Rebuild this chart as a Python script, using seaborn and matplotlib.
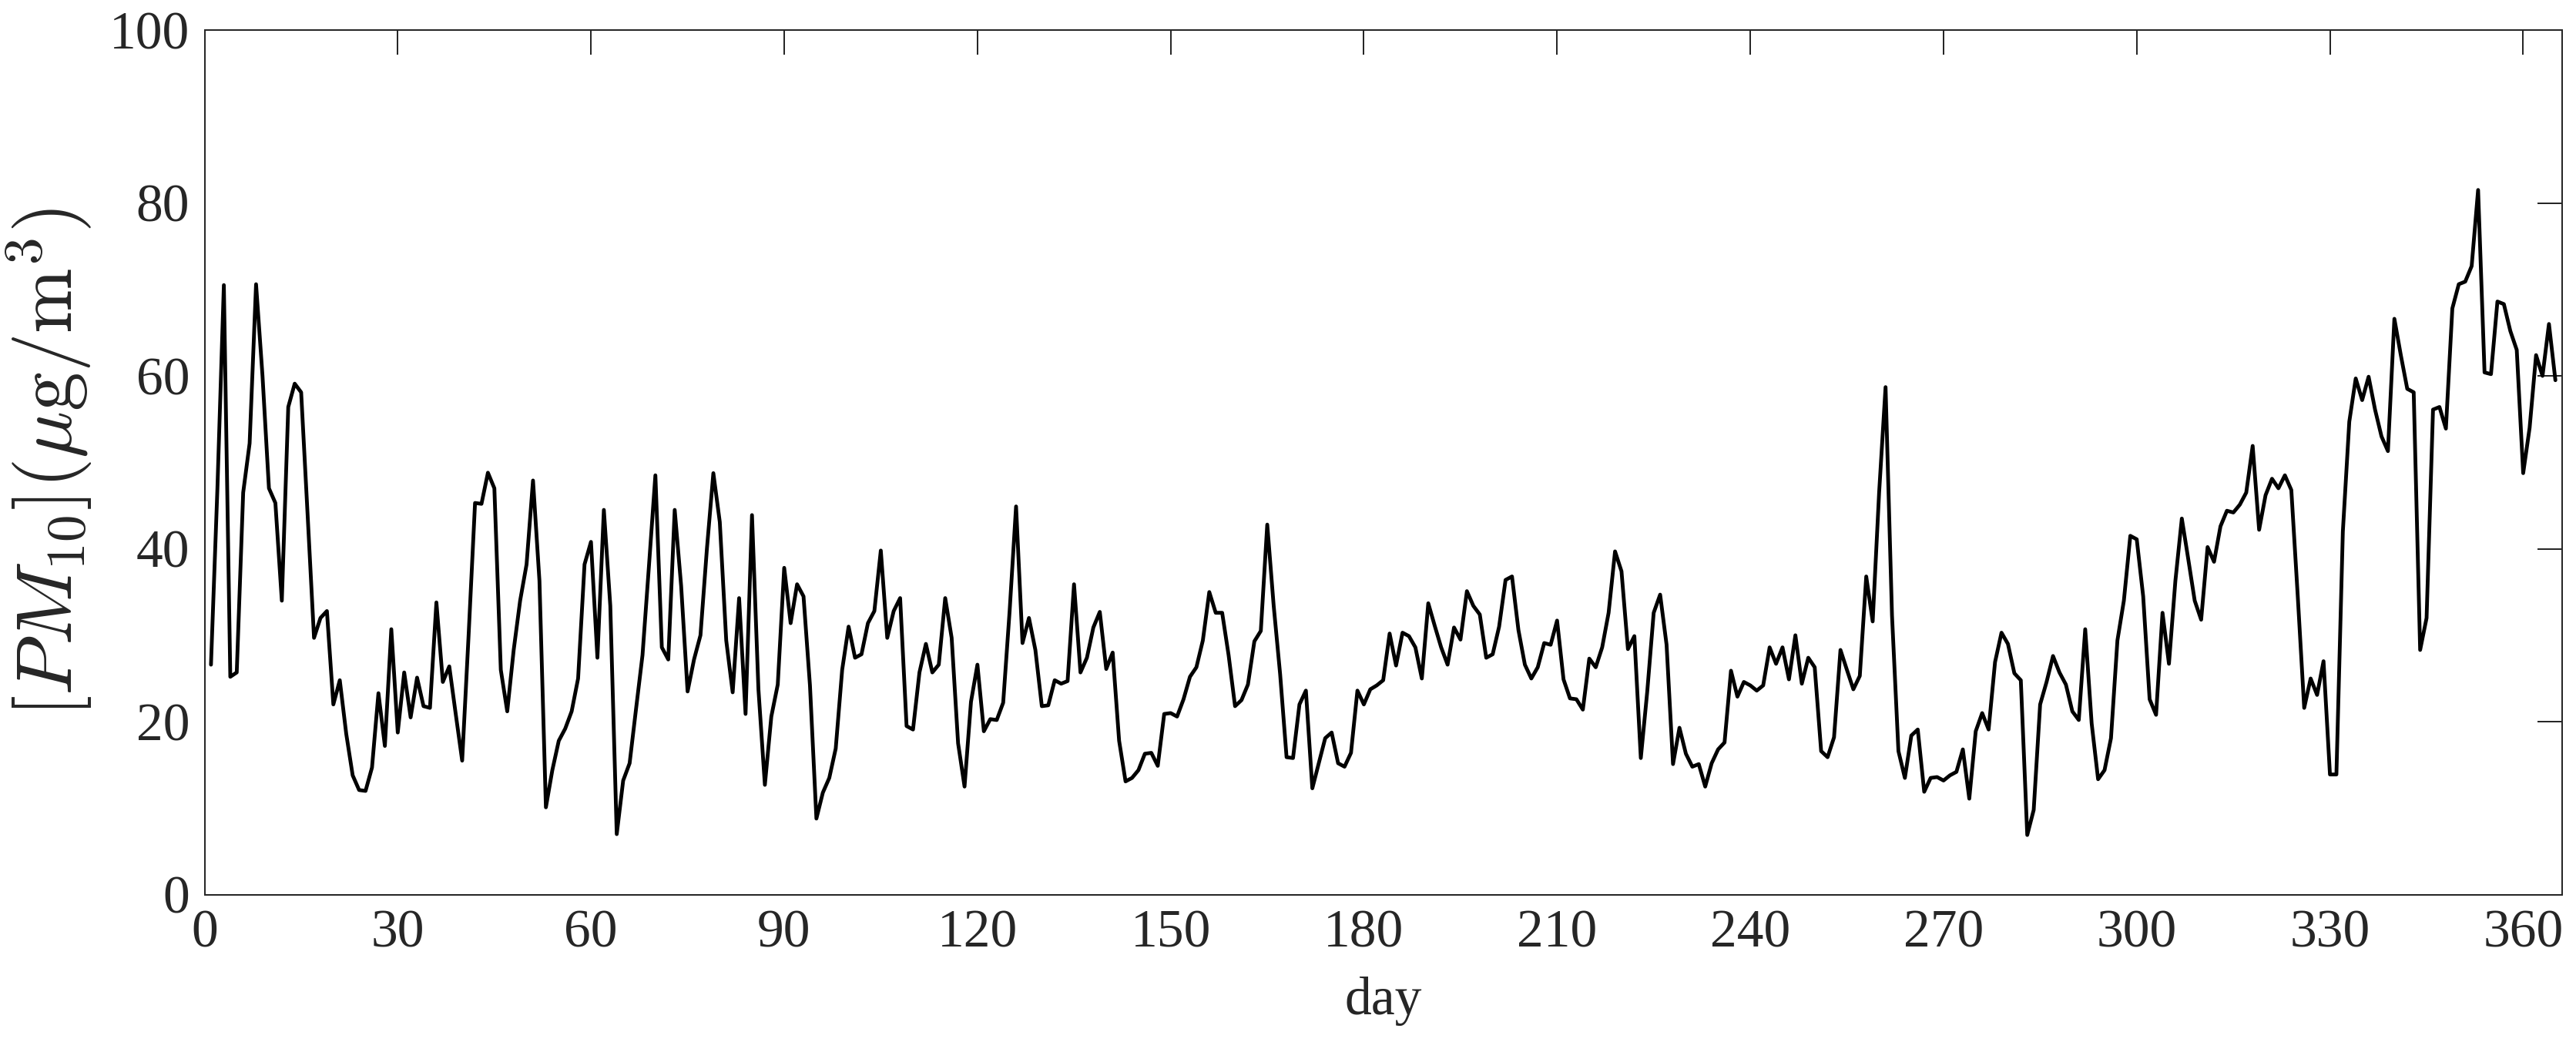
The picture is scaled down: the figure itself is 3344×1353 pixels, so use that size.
import numpy as np
import pandas as pd
import matplotlib
matplotlib.use("Agg")
import matplotlib.pyplot as plt
import seaborn as sns

# ---- data ----
days = list(range(1, 366))
pm10 = [
    26.6, 47.0, 70.5, 25.2, 25.7, 46.5, 52.2, 70.6, 60.0, 47.0,
    45.3, 34.0, 56.4, 59.1, 58.1, 44.0, 29.7, 32.0, 32.8, 22.0,
    24.8, 18.6, 13.8, 12.1, 12.0, 14.7, 23.3, 17.2, 30.7, 18.75,
    25.7, 20.5, 25.1, 21.8, 21.6, 33.8, 24.6, 26.4, 20.9, 15.5,
    30.0, 45.3, 45.2, 48.8, 47.0, 26.0, 21.2, 28.3, 34.0, 38.2,
    47.9, 36.3, 10.1, 14.4, 17.8, 19.2, 21.2, 25.0, 38.2, 40.8,
    27.4, 44.5, 33.4, 7.0, 13.2, 15.2, 21.5, 27.7, 38.0, 48.5,
    28.6, 27.2, 44.5, 35.7, 23.5, 27.2, 30.0, 40.0, 48.75, 43.1,
    29.4, 23.4, 34.3, 20.9, 43.9, 23.75, 12.7, 20.6, 24.3, 37.8,
    31.4, 35.9, 34.5, 24.2, 8.8, 11.8, 13.5, 16.9, 26.0, 31.0,
    27.4, 27.8, 31.4, 32.8, 39.8, 29.7, 32.8, 34.3, 19.5, 19.1,
    25.7, 29.0, 25.7, 26.6, 34.3, 29.7, 17.5, 12.5, 22.3, 26.6,
    18.9, 20.3, 20.2, 22.2, 32.8, 44.9, 29.1, 32.0, 28.3, 21.8,
    21.9, 24.8, 24.4, 24.7, 35.9, 25.7, 27.4, 30.9, 32.7, 26.1,
    28.0, 17.8, 13.1, 13.5, 14.4, 16.3, 16.4, 14.9, 20.9, 21.0,
    20.6, 22.6, 25.2, 26.3, 29.4, 35.0, 32.6, 32.6, 27.7, 21.8,
    22.5, 24.3, 29.3, 30.5, 42.8, 33.4, 25.5, 15.9, 15.8, 22.0,
    23.6, 12.3, 15.2, 18.1, 18.75, 15.2, 14.8, 16.4, 23.6, 22.0,
    23.75, 24.2, 24.8, 30.2, 26.5, 30.3, 29.9, 28.6, 25.0, 33.7,
    31.1, 28.6, 26.6, 30.9, 29.5, 35.1, 33.4, 32.4, 27.4, 27.8,
    31.0, 36.4, 36.8, 30.6, 26.6, 25.0, 26.3, 29.1, 28.9, 31.7,
    24.9, 22.7, 22.6, 21.4, 27.3, 26.3, 28.6, 32.6, 39.7, 37.4,
    28.4, 29.9, 15.8, 23.5, 32.6, 34.7, 28.9, 15.1, 19.3, 16.3,
    14.8, 15.1, 12.5, 15.2, 16.8, 17.6, 25.9, 22.9, 24.6, 24.2,
    23.6, 24.2, 28.6, 26.7, 28.6, 24.9, 30.0, 24.4, 27.4, 26.3,
    16.6, 15.9, 18.2, 28.3, 26.0, 23.75, 25.3, 36.8, 31.6, 46.5,
    58.7, 32.3, 16.6, 13.5, 18.4, 19.1, 11.9, 13.5, 13.6, 13.2,
    13.8, 14.2, 16.8, 11.1, 18.9, 21.0, 19.1, 26.9, 30.3, 29.0,
    25.6, 24.8, 6.9, 9.8, 22.0, 24.6, 27.6, 25.7, 24.3, 21.2,
    20.2, 30.7, 19.8, 13.35, 14.4, 18.1, 29.4, 34.0, 41.5, 41.1,
    34.5, 22.6, 20.8, 32.6, 26.7, 36.3, 43.5, 38.8, 34.0, 31.8,
    40.2, 38.5, 42.6, 44.4, 44.2, 45.1, 46.5, 51.9, 42.2, 46.2,
    48.1, 47.0, 48.5, 46.8, 34.5, 21.6, 25.0, 23.1, 27.0, 13.9,
    13.9, 42.0, 54.7, 59.7, 57.2, 59.9, 56.1, 53.0, 51.3, 66.6,
    62.4, 58.5, 58.1, 28.3, 32.0, 56.1, 56.4, 53.9, 67.8, 70.6,
    70.9, 72.7, 81.5, 60.4, 60.2, 68.6, 68.3, 65.2, 63.0, 48.75,
    54.0, 62.4, 60.0, 66.0, 59.5,
]
x_ticks = [0, 30, 60, 90, 120, 150, 180, 210, 240, 270, 300, 330, 360]
y_ticks = [0, 20, 40, 60, 80, 100]
x_label = "day"
y_label = r"$[PM_{10}](\mu \mathrm{g}/\mathrm{m}^3)$"

df = pd.DataFrame({"day": days, "pm10": pm10})

# ---- style ----
sns.set_theme(style="white")
plt.rcParams["font.family"] = ["Liberation Serif", "DejaVu Serif"]
plt.rcParams["mathtext.fontset"] = "cm"
axcol = "#262626"

fig = plt.figure(figsize=(33.44, 13.53), dpi=100)
ax = fig.add_axes([0.0794, 0.1414, 0.9151, 0.8298])

sns.lineplot(data=df, x="day", y="pm10", ax=ax, color="black",
             linewidth=3.5, estimator=None)

ax.set_xlim(0, 366)
ax.set_ylim(0, 100)
ax.set_xticks(x_ticks)
ax.set_yticks(y_ticks)
ax.tick_params(axis="both", which="both", direction="in", top=True, right=True,
               length=23, width=1.44, color=axcol, labelcolor=axcol,
               labelsize=50, pad=14)
for sp in ax.spines.values():
    sp.set_visible(True)
    sp.set_color(axcol)
    sp.set_linewidth(1.44)

ax.set_xlabel(x_label, fontsize=50, color=axcol)
ax.set_ylabel(y_label, fontsize=73, color=axcol)
ax.xaxis.set_label_coords(0.5, -0.095)
ax.yaxis.set_label_coords(-0.047, 0.5)

fig.savefig("out.png", dpi=100)
